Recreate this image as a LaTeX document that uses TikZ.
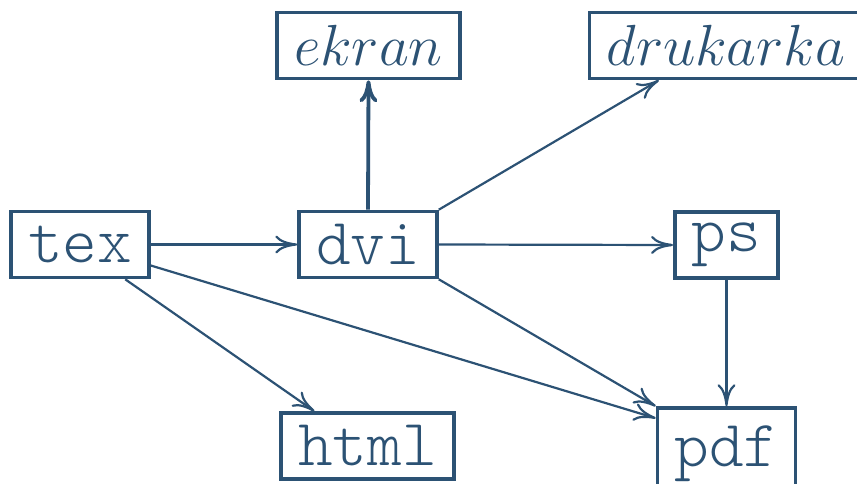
\documentclass[tikz,border=0pt]{standalone}
\usepackage{fix-cm}
\usepackage{fontspec}
\newfontfamily\lightmono{Latin Modern Mono Light}
\usetikzlibrary{arrows.meta,calc}
\definecolor{ink}{RGB}{44,82,116}
\begin{document}
\begin{tikzpicture}[x=1pt,y=-1pt,
  box/.style={draw=ink,line width=3.6pt,text=ink,inner xsep=17pt,inner ysep=0pt,
    minimum height=66pt,line join=miter},
  ttbox/.style={box,font=\fontsize{66}{72}\selectfont\lightmono},
  itbox/.style={box,font=\fontsize{58}{64}\selectfont},
  link/.style={draw=ink,line width=2.2pt,-{To[length=22pt,width=18pt]}},
  biglink/.style={link,line width=3.8pt,-{To[length=22pt,width=18pt]}}]
\useasboundingbox (0,0) rectangle (857,484);
\begin{scope}
\clip (0,0) rectangle (857,484);
% boxes
\node[ttbox] (tex) at (80,244.5) {tex};
\node[ttbox] (dvi) at (368,244.5) {dvi};
\node[ttbox] (ps) at (726.5,245) {ps};
\node[ttbox] (html) at (367.5,446) {html};
\node[ttbox,minimum height=92pt] (pdf) at (726.5,454) {pdf};
\node[itbox] (ekran) at (368.5,45.5) {$ekran$};
\node[itbox] (drukarka) at (726,45.5) {$drukarka$};
% anchor points for the slanted connectors
\coordinate (dkin) at ($(drukarka.south west)+(71,0)$);
\coordinate (texr) at ($(tex.east)+(0,21)$);
\coordinate (texb) at ($(tex.south west)+(116,0)$);
\coordinate (htmlin) at ($(html.north west)+(35,0)$);
\coordinate (pdfin) at ($(pdf.north west)+(0,12)$);
% connectors
\draw[link] (tex.east) -- (dvi.west);
\draw[biglink] (dvi.north) -- (ekran.south);
\draw[link] (dvi.north east) -- (dkin);
\draw[link] (dvi.east) -- (ps.west);
\draw[link] (dvi.south east) -- (pdf.north west);
\draw[link] (texr) -- (pdfin);
\draw[link] (texb) -- (htmlin);
\draw[link] (ps.south) -- (pdf.north);
\end{scope}
\end{tikzpicture}
\end{document}
